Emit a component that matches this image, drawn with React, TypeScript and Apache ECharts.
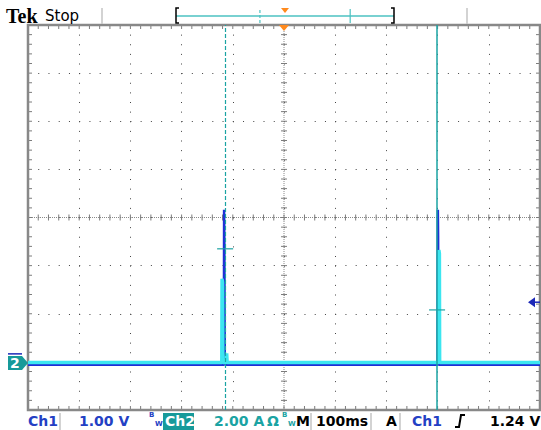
import React, { useEffect, useRef } from "react";
import * as echarts from "echarts";

// Horizontal scale: 100 ms/div over 10 divisions, trigger at the centre.
const TIME_MIN = -500;
const TIME_MAX = 500;
const TIME_PER_DIV = 100;
// Vertical scale is plotted in screen divisions (8 of them).
const DIV_MIN = -4;
const DIV_MAX = 4;

const ch1VoltsPerDiv = 1.0;
const ch2AmpsPerDiv = 2.0;
const ch1OffsetDiv = -3;
const ch2OffsetDiv = -3;

// Ch1 voltage trace (ms, V)
const ch1Time = [-500, -117.5, -117, -116.5, -116, -115.5, 300, 300.5, 301, 301.5, 302, 500];
const ch1Volts = [-0.06, -0.06, 3.16, 2.55, 0.9, -0.06, -0.06, 3.16, 2.6, 1.0, -0.06, -0.06];

// Ch2 current trace (ms, A)
const ch2Time = [-500, -121.5, -121, -120, -119.5, -113, -112, -111, 302, 302.5, 303.5, 304, 500];
const ch2Amps = [-0.03, -0.03, 3.45, 3.3, -0.03, -0.03, 0.35, -0.03, -0.03, 4.65, 4.5, -0.03, -0.03];

// Cursor positions (ms) and the Ch1 level each one reads (V)
const cursorTimes = [-115, 299];
const cursorVolts = [2.35, 1.08];

const ch1TriggerLevel = 1.24;

// Readout strings
const ch1ScaleText = "1.00 V";
const ch2ScaleText = "2.00 A";
const timebaseText = "100ms";
const triggerText = "1.24 V";

const W = 541;
const H = 430;
const GRID_LEFT = 28;
const GRID_TOP = 25;
const GRID_W = 512;
const GRID_H = 385;

const BLUE = "#1f2fd6";
const CYAN = "#3ce6f0";
const TEAL = "#1aa3a3";
const ORANGE = "#ff8a1e";
const LABEL_BLUE = "#2340c4";

const xPix = (t: number) => GRID_LEFT + ((t - TIME_MIN) / (TIME_MAX - TIME_MIN)) * GRID_W;
const yPix = (d: number) => GRID_TOP + ((DIV_MAX - d) / (DIV_MAX - DIV_MIN)) * GRID_H;

const txt = (
  x: number,
  y: number,
  text: string,
  fill: string,
  fontSize = 14,
  fontWeight: string = "bold",
  fontFamily = "DejaVu Sans"
) => ({
  type: "text",
  x,
  y,
  silent: true,
  z: 20,
  style: {
    text,
    fill,
    fontSize,
    fontWeight,
    fontFamily,
    textVerticalAlign: "middle",
    verticalAlign: "middle",
  },
});

const seg = (x1: number, y1: number, x2: number, y2: number, stroke: string, lineWidth = 1, lineDash?: number[]) => ({
  type: "line",
  silent: true,
  z: 20,
  shape: { x1, y1, x2, y2 },
  style: { stroke, lineWidth, lineDash },
});

export default function App() {
  const ref = useRef<HTMLDivElement>(null);

  useEffect(() => {
    if (!ref.current) return;
    const chart = echarts.init(ref.current, undefined, { renderer: "svg" });

    const ch1Data = ch1Time.map((t, i) => [t, ch1Volts[i] / ch1VoltsPerDiv + ch1OffsetDiv]);
    const ch2Data = ch2Time.map((t, i) => [t, ch2Amps[i] / ch2AmpsPerDiv + ch2OffsetDiv]);
    const cursorData = cursorTimes.map((t, i) => [t, cursorVolts[i] / ch1VoltsPerDiv + ch1OffsetDiv]);

    // Record-view bar at the top, mapping the full record into the bracket
    const RB_L = 176;
    const RB_R = 394;
    const rb = (t: number) => RB_L + ((t - TIME_MIN) / (TIME_MAX - TIME_MIN)) * (RB_R - RB_L);

    const ch2Ground = yPix(ch2OffsetDiv);
    const trigY = yPix(ch1TriggerLevel / ch1VoltsPerDiv + ch1OffsetDiv);
    const centreX = xPix(0);
    const rightX = GRID_LEFT + GRID_W;

    const graphic: any[] = [
      // header
      txt(6, 16, "Tek", "#000", 20, "bold", "Liberation Serif"),
      txt(45, 16, "Stop", "#000", 15, "normal"),
      seg(102, 8, 102, 24, "#c4c4c4", 1.5),
      seg(467, 8, 467, 24, "#c4c4c4", 1.5),
      seg(RB_L, 16, RB_R, 16, "#4cc2c2", 1.5),
      { type: "polyline", silent: true, z: 20, shape: { points: [[RB_L + 3, 8], [RB_L, 8], [RB_L, 23], [RB_L + 3, 23]] }, style: { stroke: "#000", lineWidth: 1.5, fill: "none" } },
      { type: "polyline", silent: true, z: 20, shape: { points: [[RB_R - 3, 8], [RB_R, 8], [RB_R, 23], [RB_R - 3, 23]] }, style: { stroke: "#000", lineWidth: 1.5, fill: "none" } },
      seg(rb(cursorTimes[0]), 10, rb(cursorTimes[0]), 23, "#4cc2c2", 1.2, [3, 2]),
      seg(rb(cursorTimes[1]), 9, rb(cursorTimes[1]), 23, "#4cc2c2", 1.2),
      { type: "polygon", silent: true, z: 20, shape: { points: [[rb(0) - 4, 8], [rb(0) + 4, 8], [rb(0), 13]] }, style: { fill: ORANGE } },
      // trigger position marker
      { type: "polygon", silent: true, z: 20, shape: { points: [[centreX - 5, GRID_TOP], [centreX + 5, GRID_TOP], [centreX, GRID_TOP + 6]] }, style: { fill: ORANGE } },
      // channel 2 ground marker (ch1 marker tucked behind)
      seg(8, ch2Ground - 8, 22, ch2Ground - 8, "#1c28b8", 1.5),
      { type: "polygon", silent: true, z: 20, shape: { points: [[8, ch2Ground - 6], [22, ch2Ground - 6], [28, ch2Ground + 1], [22, ch2Ground + 8], [8, ch2Ground + 8]] }, style: { fill: "#179a9a" } },
      txt(10, ch2Ground + 1, "2", "#fff", 14, "bold"),
      // ch1 trigger level arrow
      { type: "polygon", silent: true, z: 20, shape: { points: [[rightX - 12, trigY], [rightX - 5, trigY - 5], [rightX - 5, trigY + 5]] }, style: { fill: "#1c28b8" } },
      seg(rightX - 6, trigY, rightX, trigY, "#1c28b8", 1.5),
      // readout line
      txt(28, 421, "Ch1", LABEL_BLUE),
      seg(60, 413, 60, 430, "#c4c4c4", 1.5),
      txt(79, 421, ch1ScaleText, LABEL_BLUE),
      txt(149, 415, "B", LABEL_BLUE, 7, "bold"),
      txt(155, 424, "W", LABEL_BLUE, 7, "bold"),
      { type: "rect", silent: true, z: 19, shape: { x: 163, y: 413, width: 31, height: 17 }, style: { fill: "#179a9a" } },
      txt(165, 421, "Ch2", "#fff"),
      txt(214, 421, ch2ScaleText, TEAL),
      txt(267, 421, "Ω", TEAL),
      txt(282, 415, "B", TEAL, 7, "bold"),
      txt(288, 424, "W", TEAL, 7, "bold"),
      txt(296, 421, "M", "#000"),
      seg(311, 413, 311, 430, "#c4c4c4", 1.5),
      seg(371, 413, 371, 430, "#c4c4c4", 1.5),
      txt(316, 421, timebaseText, "#000"),
      txt(386, 421, "A", "#000"),
      seg(400, 413, 400, 430, "#c4c4c4", 1.5),
      txt(412, 421, "Ch1", LABEL_BLUE),
      { type: "polyline", silent: true, z: 20, shape: { points: [[455, 427], [459, 427], [461, 415], [465, 415]] }, style: { stroke: "#000", lineWidth: 2, fill: "none" } },
      txt(490, 421, triggerText, "#000"),
    ];

    const graticule = {
      type: "custom",
      silent: true,
      clip: false,
      z: 1,
      data: [[0, 0]],
      renderItem: (_params: any, api: any) => {
        const p = (t: number, d: number) => api.coord([t, d]);
        const [x0, y0] = p(TIME_MIN, DIV_MAX);
        const [x1, y1] = p(TIME_MAX, DIV_MIN);
        const [cx, cy] = p(0, 0);
        const kids: any[] = [];
        const ln = (a: number, b: number, c: number, d: number, stroke = "#7c7c7c", lineWidth = 1, lineDash?: number[]) =>
          kids.push({ type: "line", shape: { x1: a, y1: b, x2: c, y2: d }, style: { stroke, lineWidth, lineDash } });
        // dense centre cross
        ln(x0, cy, x1, cy, "#8a8a8a", 1, [1, 1]);
        ln(cx, y0, cx, y1, "#8a8a8a", 1, [1, 1]);
        const minorT = TIME_PER_DIV / 5;
        for (let t = TIME_MIN; t <= TIME_MAX + 1e-6; t += minorT) {
          const x = p(t, 0)[0];
          ln(x, y0, x, y0 + 4);
          ln(x, y1, x, y1 - 4);
          ln(x, cy - 3, x, cy + 3);
        }
        for (let d = DIV_MIN; d <= DIV_MAX + 1e-6; d += 0.2) {
          const y = p(0, d)[1];
          ln(x0, y, x0 + 4, y);
          ln(x1, y, x1 - 4, y);
          ln(cx - 3, y, cx + 3, y);
        }
        kids.push({
          type: "rect",
          shape: { x: x0, y: y0, width: x1 - x0, height: y1 - y0 },
          style: { fill: "none", stroke: "#888", lineWidth: 2.5 },
        });
        return { type: "group", children: kids };
      },
    };

    chart.setOption({
      animation: false,
      backgroundColor: "#fff",
      grid: { left: GRID_LEFT, top: GRID_TOP, width: GRID_W, height: GRID_H, containLabel: false },
      xAxis: {
        type: "value",
        min: TIME_MIN,
        max: TIME_MAX,
        interval: TIME_PER_DIV,
        axisLine: { show: false },
        axisTick: { show: false },
        axisLabel: { show: false },
        splitLine: { show: true, lineStyle: { color: "#444", width: 1, type: [1, GRID_H / 40 - 1] } },
      },
      yAxis: {
        type: "value",
        min: DIV_MIN,
        max: DIV_MAX,
        interval: 1,
        axisLine: { show: false },
        axisTick: { show: false },
        axisLabel: { show: false },
        splitLine: { show: true, lineStyle: { color: "#444", width: 1, type: [1, GRID_W / 50 - 1] } },
      },
      graphic,
      series: [
        graticule,
        {
          name: "Ch1",
          type: "line",
          data: ch1Data,
          showSymbol: false,
          symbol: "none",
          z: 3,
          lineStyle: { color: BLUE, width: 2.5 },
        },
        {
          name: "Ch2",
          type: "line",
          data: ch2Data,
          showSymbol: false,
          symbol: "none",
          z: 4,
          lineStyle: { color: CYAN, width: 3.5 },
        },
        {
          name: "Cursors",
          type: "scatter",
          data: cursorData,
          symbol: "rect",
          symbolSize: [16, 1.5],
          z: 5,
          itemStyle: { color: TEAL },
          markLine: {
            silent: true,
            symbol: ["none", "none"],
            label: { show: false },
            data: cursorTimes.map((t, i) => ({
              xAxis: t,
              lineStyle: { color: TEAL, width: i === 0 ? 1.2 : 1.5, type: i === 0 ? [4, 2] : "solid" },
            })),
          },
        },
      ],
    });

    return () => chart.dispose();
  }, []);

  return (
    <div
      ref={ref}
      style={{ position: "fixed", left: 0, top: 0, width: W, height: H, background: "#fff" }}
    />
  );
}
